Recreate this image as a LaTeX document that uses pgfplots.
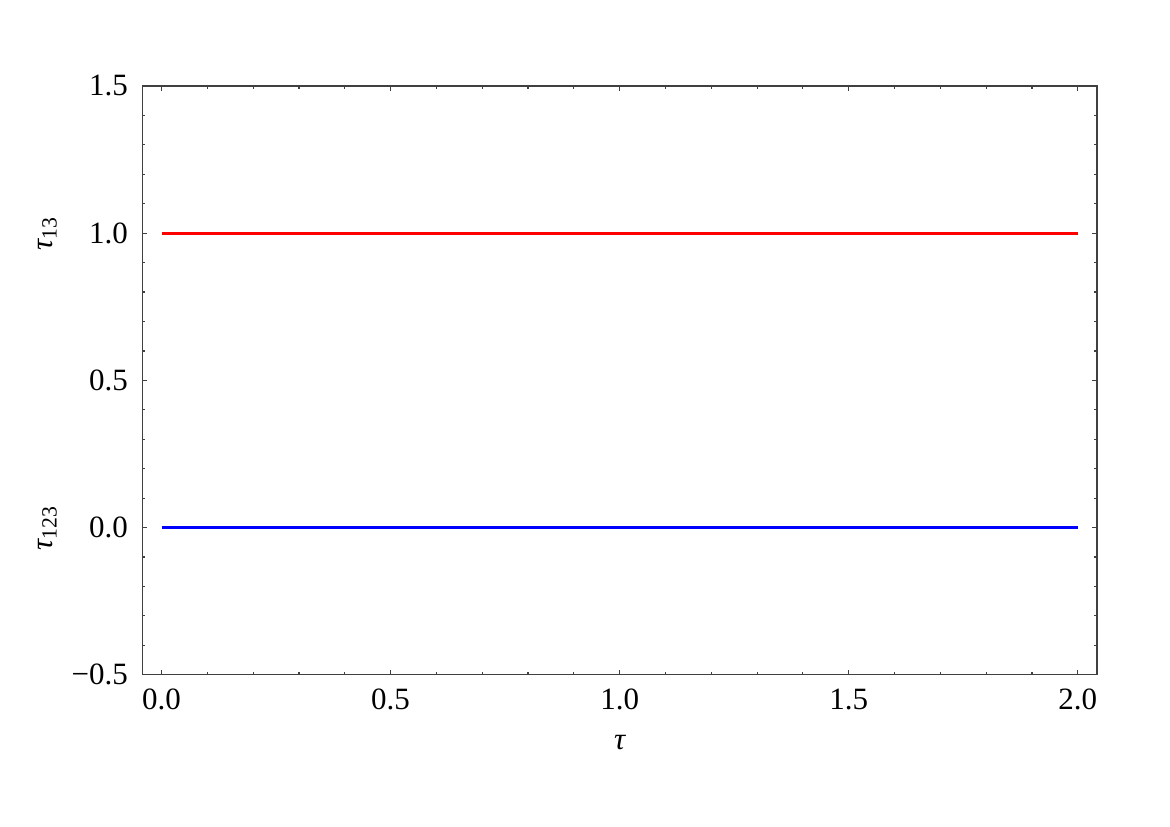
\documentclass[border=0pt]{standalone}
\usepackage{pgfplots}
\pgfplotsset{compat=1.18}
\usepackage{fontspec}
\setmainfont{Liberation Serif}
\begin{document}
\begin{tikzpicture}
\fontsize{9.3}{11}\selectfont
\begin{axis}[
  name=ax,
  scale only axis,
  width=286.5pt, height=176.7pt,
  xmin=-0.042, xmax=2.042,
  ymin=-0.5, ymax=1.5,
  xtick={0,0.5,1,1.5,2},
  xticklabels={0.0,0.5,1.0,1.5,2.0},
  ytick={-0.5,0,0.5,1,1.5},
  yticklabels={−0.5,0.0,0.5,1.0,1.5},
  minor tick num=4,
  tick align=inside,
  major tick length=1.5pt,
  minor tick length=0.8pt,
  axis line style={draw=black!75, line width=0.35pt},
  every tick/.style={draw=black!75, line width=0.35pt},
  tick label style={font=\fontsize{9.3}{11}\selectfont},
  xticklabel style={yshift=-1pt},
  yticklabel style={xshift=-1pt},
  xlabel={\itshape τ},
  xlabel style={yshift=-1pt},
  clip=false,
]
% lines tau_13 and tau_123
\addplot[red, line width=0.85pt] coordinates {(0,1) (2,1)};
\addplot[blue, line width=0.85pt] coordinates {(0,0) (2,0)};
\node[rotate=90, xshift=0pt] at ([xshift=-28.4pt]rel axis cs:0,0.75) {{\itshape τ}\textsubscript{13}};
\node[rotate=90] at ([xshift=-28.4pt]rel axis cs:0,0.25) {{\itshape τ}\textsubscript{123}};
\end{axis}
\path ([xshift=-42.7pt, yshift=-45.6pt]ax.south west) rectangle ([xshift=21.9pt, yshift=25.8pt]ax.north east);
\end{tikzpicture}
\end{document}
